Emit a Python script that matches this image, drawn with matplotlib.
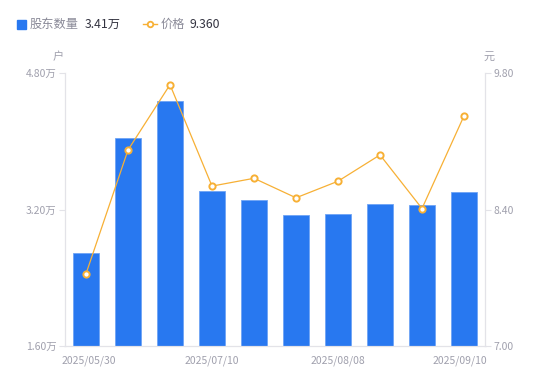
import numpy as np
import matplotlib.pyplot as plt

plt.rcParams['font.family'] = ['Noto Sans CJK SC', 'DejaVu Sans']

dates = ['2025/05/30', '2025/06/10', '2025/06/20', '2025/07/10', '2025/07/20',
         '2025/07/31', '2025/08/08', '2025/08/20', '2025/08/31', '2025/09/10']
holders = [2.69, 4.04, 4.47, 3.42, 3.31, 3.14, 3.15, 3.26, 3.25, 3.41]  # 万户
price = [7.74, 9.01, 9.68, 8.64, 8.72, 8.52, 8.69, 8.96, 8.41, 9.36]
left_ticks = [1.60, 3.20, 4.80]
right_ticks = [7.00, 8.40, 9.80]
shown = [0, 3, 6, 9]

blue = '#2878f0'
orange = '#f7b035'
grey = '#a0a0ad'
axis_c = '#e3e3e8'

fig = plt.figure(figsize=(5.5, 3.81), dpi=100)
ax = fig.add_axes([65/550, 35/381, 420/550, 273/381])
ax2 = ax.twinx()

x = np.arange(len(dates))
ax.bar(x, holders, width=0.6, color=blue, edgecolor='#6fa4f5', linewidth=0.6, zorder=2)
ax2.plot(x, price, color=orange, lw=0.9, marker='o', ms=4.5, mfc='white',
         mec=orange, mew=1.4, zorder=3)

ax.set_xlim(-0.5, len(dates) - 0.5)
ax.set_ylim(left_ticks[0], left_ticks[-1])
ax2.set_ylim(right_ticks[0], right_ticks[-1])

ax.set_yticks(left_ticks)
ax.set_yticklabels(['%.2f万' % v for v in left_ticks])
ax2.set_yticks(right_ticks)
ax2.set_yticklabels(['%.2f' % v for v in right_ticks])
ax.set_xticks([])

for a in (ax, ax2):
    for s in a.spines.values():
        s.set_color(axis_c)
        s.set_linewidth(0.8)
    a.spines['top'].set_visible(False)
    a.tick_params(colors=grey, labelsize=7.5, length=4, width=0.8, color=axis_c, pad=2)
    for lb in a.get_yticklabels():
        lb.set_color(grey)

# date labels: first and last pinned to the axis ends, like the original
trans = ax.get_xaxis_transform()
for i in shown:
    if i == 0:
        xp, ha = -0.58, 'left'
    elif i == len(dates) - 1:
        xp, ha = len(dates) - 0.46, 'right'
    else:
        xp, ha = i, 'center'
    ax.text(xp, -0.035, dates[i], transform=trans, ha=ha, va='top', fontsize=7.5, color=grey)

fig.text(58/550, 1 - 57/381, '户', ha='center', va='center', fontsize=8, color=grey)
fig.text(489/550, 1 - 57/381, '元', ha='center', va='center', fontsize=8, color=grey)

# legend
ly = 1 - 24/381
fig.patches.append(plt.Rectangle((17/550, 1 - 28.5/381), 8.5/550, 8.5/381,
                                 transform=fig.transFigure, color=blue, figure=fig))
fig.text(30/550, ly, '股东数量', va='center', fontsize=8.8, color='#8a8a98')
fig.text(85/550, ly, '%.2f万' % holders[-1], va='center', fontsize=8.8, color='#333340')
fig.lines.append(plt.Line2D([143/550, 150/550, 157/550], [ly] * 3, transform=fig.transFigure,
                            color=orange, lw=1, marker='o', ms=4, mfc='white', mec=orange,
                            mew=1.3, markevery=[1], figure=fig))
fig.text(161/550, ly, '价格', va='center', fontsize=8.8, color='#8a8a98')
fig.text(190/550, ly, '%.3f' % price[-1], va='center', fontsize=8.8, color='#333340')

fig.savefig('out.png', dpi=100)
